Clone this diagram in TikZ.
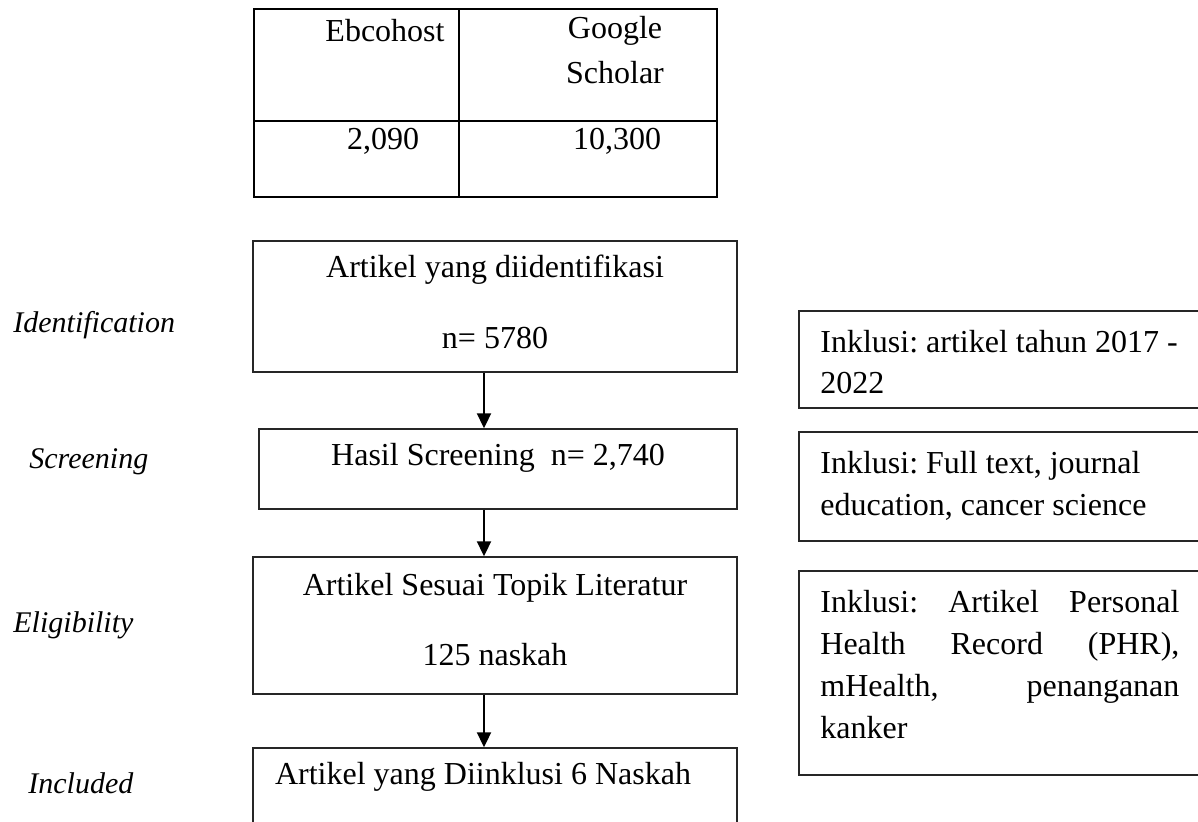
\documentclass[tikz,border=0pt]{standalone}
\usepackage{fontspec}
\setmainfont{Liberation Serif}
\usetikzlibrary{arrows.meta}
\frenchspacing
\begin{document}
\frenchspacing
\begin{tikzpicture}[x=0.5pt,y=-0.5pt,
  font=\fontsize{16}{20.85}\selectfont,
  box/.style={draw=black!85, line width=0.75pt, inner sep=0pt, rectangle},
  txt/.style={inner sep=0pt, align=center},
  lab/.style={inner sep=0pt, anchor=west, font=\fontsize{15}{20.85}\selectfont\itshape},
  side/.style={inner sep=0pt, anchor=west, align=left},
  sidej/.style={inner sep=0pt, anchor=west, text width=179.5pt, align=left},
  tbl/.style={draw=black, line width=1pt},
  arr/.style={draw=black, line width=1.1pt, -{Triangle[width=7pt,length=7.5pt]}}]
\useasboundingbox (0,0) rectangle (1198,821);
\clip (0,0) rectangle (1198,821);

% table
\draw[tbl] (254,9) rectangle (717,197);
\draw[tbl] (459,9) -- (459,197);
\draw[tbl] (254,121) -- (717,121);
\node[txt] (ebco) at (385,31) {Ebcohost};
\node[txt] (goo) at (615,31) {Google};
\node[txt] (sch) at (615,73) {Scholar};
\node[txt] (n1) at (383,141) {2,090};
\node[txt] (n2) at (617,141) {10,300};

% main boxes
\node[box, minimum width=242pt, minimum height=65.5pt] (b1) at (495,306.5) {};
\node[box, minimum width=239pt, minimum height=40pt] (b2) at (498,469) {};
\node[box, minimum width=242pt, minimum height=68.5pt] (b3) at (495,625.5) {};
\node[box, minimum width=242pt, minimum height=61pt] (b4) at (495,809) {};

\node[txt] (b1a) at (495,270) {Artikel yang diidentifikasi};
\node[txt] (b1b) at (495,338) {n= 5780};
\node[txt] (b2a) at (498,458) {Hasil Screening\ \ n= 2,740};
\node[txt] (b3a) at (495,588) {Artikel Sesuai Topik Literatur};
\node[txt] (b3b) at (495,655) {125 naskah};
\node[txt] (b4a) at (483,777) {Artikel yang Diinklusi 6 Naskah};

% arrows
\coordinate (ax) at (484,0);
\draw[arr] (b1.south -| ax) -- (b2.north -| ax);
\draw[arr] (b2.south -| ax) -- (b3.north -| ax);
\draw[arr] (b3.south -| ax) -- (b4.north -| ax);

% side boxes
\node[box, minimum width=205.5pt, minimum height=48.5pt] (r1) at (1004.5,359.5) {};
\node[box, minimum width=205.5pt, minimum height=54.5pt] (r2) at (1004.5,486.5) {};
\node[box, minimum width=205.5pt, minimum height=102pt] (r3) at (1004.5,673) {};

\node[side] (r1t) at (820,362) {Inklusi: artikel tahun 2017 -\\2022};
\node[side] (r2t) at (820,485.5) {Inklusi: Full text, journal\\education, cancer science};
\node[sidej] (r3t) at (820,664.5) {Inklusi:\hfill Artikel\hfill Personal\\Health\hfill Record\hfill (PHR),\\mHealth,\hfill penanganan\\kanker};

% stage labels
\node[lab] (l1) at (13,325) {Identification};
\node[lab] (l2) at (29,462) {Screening};
\node[lab] (l3) at (13,625) {Eligibility};
\node[lab] (l4) at (28,783) {Included};
\end{tikzpicture}
\end{document}
